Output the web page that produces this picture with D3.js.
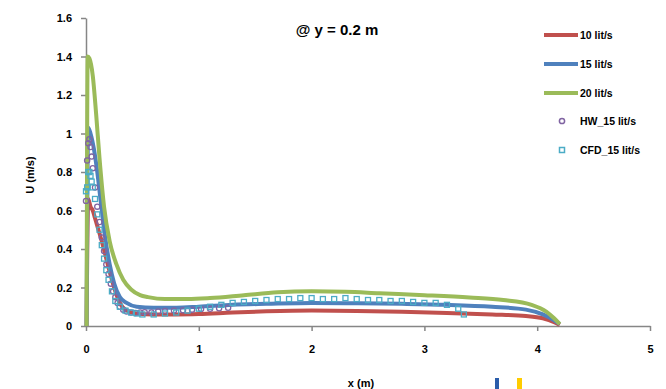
<!DOCTYPE html>
<html>
<head>
<meta charset="utf-8">
<script src="https://cdn.jsdelivr.net/npm/d3@7"></script>
<style>
  body { margin: 0; background: #fff; }
  svg text { font-family: "Liberation Sans", Arial, sans-serif; font-weight: bold; fill: #000; }
</style>
</head>
<body>
<div id="chart"></div>
<script>
// 10 lit/s
const x10 = [0.005,0.02,0.04,0.06,0.08,0.1,0.14,0.18,0.22,0.26,0.3,0.36,0.45,0.6,0.8,1.0,1.3,1.6,2.0,2.4,2.8,3.2,3.6,3.9,4.05,4.15,4.2];
const u10 = [0,0.66,0.62,0.6,0.56,0.52,0.44,0.35,0.26,0.18,0.12,0.08,0.065,0.06,0.06,0.062,0.07,0.076,0.08,0.078,0.074,0.068,0.06,0.052,0.04,0.02,0.005];
// 15 lit/s
const x15 = [0.005,0.02,0.04,0.07,0.1,0.13,0.17,0.21,0.25,0.3,0.36,0.45,0.6,0.8,1.0,1.3,1.6,2.0,2.4,2.8,3.2,3.6,3.9,4.05,4.15,4.2];
const u15 = [0,1.03,1.0,0.92,0.8,0.65,0.46,0.32,0.22,0.15,0.12,0.1,0.095,0.095,0.1,0.11,0.115,0.12,0.118,0.115,0.11,0.1,0.085,0.06,0.03,0.01];
// 20 lit/s
const x20 = [0.005,0.015,0.03,0.06,0.09,0.12,0.16,0.21,0.27,0.33,0.4,0.48,0.55,0.7,0.9,1.1,1.4,1.7,2.0,2.3,2.6,3.0,3.4,3.7,3.95,4.08,4.15,4.2];
const u20 = [0,1.4,1.39,1.3,1.1,0.87,0.62,0.44,0.32,0.24,0.19,0.16,0.15,0.14,0.14,0.145,0.16,0.175,0.18,0.178,0.17,0.16,0.148,0.135,0.11,0.075,0.04,0.01];
// HW_15 lit/s (markers)
const xHW = [0.0,0.01,0.02,0.03,0.04,0.05,0.06,0.08,0.1,0.12,0.14,0.16,0.18,0.2,0.22,0.24,0.26,0.28,0.3,0.33,0.36,0.4,0.44,0.48,0.52,0.58,0.64,0.7,0.78,0.86,0.94,1.02,1.1,1.18,1.26];
const uHW = [0.65,0.86,0.95,0.97,0.93,0.88,0.82,0.72,0.62,0.54,0.46,0.39,0.32,0.27,0.22,0.18,0.15,0.12,0.1,0.085,0.075,0.07,0.068,0.07,0.072,0.07,0.075,0.078,0.08,0.082,0.085,0.088,0.09,0.092,0.095];
// CFD_15 lit/s (markers)
const xCFD = [0.0,0.01,0.02,0.03,0.04,0.05,0.06,0.08,0.1,0.12,0.14,0.16,0.18,0.2,0.23,0.26,0.3,0.35,0.4,0.45,0.5,0.6,0.7,0.8,0.9,1.0,1.1,1.2,1.3,1.4,1.5,1.6,1.7,1.8,1.9,2.0,2.1,2.2,2.3,2.4,2.5,2.6,2.7,2.8,2.9,3.0,3.1,3.2,3.3,3.35];
const uCFD = [0.7,0.72,0.8,0.8,0.78,0.75,0.72,0.66,0.58,0.5,0.42,0.35,0.29,0.24,0.18,0.13,0.1,0.08,0.07,0.065,0.06,0.06,0.065,0.07,0.08,0.09,0.1,0.11,0.12,0.125,0.13,0.135,0.14,0.14,0.145,0.145,0.14,0.14,0.145,0.14,0.135,0.135,0.13,0.13,0.125,0.12,0.12,0.11,0.09,0.06];

const xTicks = [0,1,2,3,4,5];
const yTicks = [0,0.2,0.4,0.6,0.8,1,1.2,1.4,1.6];
const lineNames = ["10 lit/s","15 lit/s","20 lit/s"];
const markerNames = ["HW_15 lit/s","CFD_15 lit/s"];

const width = 666, height = 389;
const margin = { top: 18, right: 16, bottom: 63, left: 86 };
const axisColor = "#868686";
const colors = ["#c0504d","#4f81bd","#9bbb59","#8064a2","#4bacc6"];

const svg = d3.select("#chart").append("svg")
    .attr("width", width)
    .attr("height", height);

const x = d3.scaleLinear().domain([0, 5]).range([margin.left, width - margin.right]);
const y = d3.scaleLinear().domain([0, 1.6]).range([height - margin.bottom, margin.top]);

// axes
const xAxis = svg.append("g")
    .attr("transform", `translate(0,${height - margin.bottom})`)
    .call(d3.axisBottom(x).tickValues(xTicks).tickFormat(d3.format("d")).tickSize(5).tickSizeOuter(0).tickPadding(14));
const yAxis = svg.append("g")
    .attr("transform", `translate(${margin.left},0)`)
    .call(d3.axisLeft(y).tickValues(yTicks).tickFormat(d => String(d)).tickSize(5).tickSizeOuter(0).tickPadding(9));
[xAxis, yAxis].forEach(g => {
    g.select(".domain").attr("stroke", axisColor).attr("stroke-width", 1.5);
    g.selectAll(".tick line").attr("stroke", axisColor).attr("stroke-width", 1.5);
    g.selectAll(".tick text").attr("font-size", 11).style("font-weight", "bold");
});

// lines
const line = d3.line().x(d => x(d[0])).y(d => y(d[1])).curve(d3.curveMonotoneX);
const lineSeries = [[x10, u10], [x15, u15], [x20, u20]];
lineSeries.forEach((s, i) => {
    svg.append("path")
        .datum(s[0].map((v, j) => [v, s[1][j]]))
        .attr("fill", "none")
        .attr("stroke", colors[i])
        .attr("stroke-width", 4)
        .attr("stroke-linejoin", "round")
        .attr("d", line);
});

// markers
svg.append("g").selectAll("circle")
    .data(xHW.map((v, j) => [v, uHW[j]]))
    .join("circle")
    .attr("cx", d => x(d[0]))
    .attr("cy", d => y(d[1]))
    .attr("r", 2.6)
    .attr("fill", "none")
    .attr("stroke", colors[3])
    .attr("stroke-width", 1.3);

svg.append("g").selectAll("rect")
    .data(xCFD.map((v, j) => [v, uCFD[j]]))
    .join("rect")
    .attr("x", d => x(d[0]) - 2.5)
    .attr("y", d => y(d[1]) - 2.5)
    .attr("width", 5)
    .attr("height", 5)
    .attr("fill", "none")
    .attr("stroke", colors[4])
    .attr("stroke-width", 1.3);

// title
svg.append("text")
    .attr("x", 337).attr("y", 35)
    .attr("text-anchor", "middle")
    .attr("font-size", 15)
    .text("@ y = 0.2 m");

// axis labels
svg.append("text")
    .attr("transform", "translate(34,175) rotate(-90)")
    .attr("text-anchor", "middle")
    .attr("font-size", 11)
    .text("U (m/s)");
svg.append("text")
    .attr("x", 361).attr("y", 387)
    .attr("text-anchor", "middle")
    .attr("font-size", 11)
    .text("x (m)");

// legend
const legend = svg.append("g");
lineNames.forEach((name, i) => {
    const ly = 35 + i * 29;
    legend.append("line")
        .attr("x1", 544).attr("x2", 578).attr("y1", ly).attr("y2", ly)
        .attr("stroke", colors[i]).attr("stroke-width", 4);
    legend.append("text")
        .attr("x", 580).attr("y", ly + 4)
        .attr("font-size", 10.5)
        .text(name);
});
markerNames.forEach((name, i) => {
    const ly = 121 + i * 29;
    if (i === 0) {
        legend.append("circle").attr("cx", 562).attr("cy", ly).attr("r", 2.6)
            .attr("fill", "none").attr("stroke", colors[3]).attr("stroke-width", 1.5);
    } else {
        legend.append("rect").attr("x", 559.5).attr("y", ly - 2.5).attr("width", 5).attr("height", 5)
            .attr("fill", "none").attr("stroke", colors[4]).attr("stroke-width", 1.5);
    }
    legend.append("text")
        .attr("x", 580).attr("y", ly + 4)
        .attr("font-size", 10.5)
        .text(name);
});

// small clipped marks at the bottom edge
svg.append("rect").attr("x", 495).attr("y", 378).attr("width", 4).attr("height", 11).attr("fill", "#2a5caa");
svg.append("rect").attr("x", 517).attr("y", 378).attr("width", 5).attr("height", 11).attr("fill", "#ffcc00");
</script>
</body>
</html>
